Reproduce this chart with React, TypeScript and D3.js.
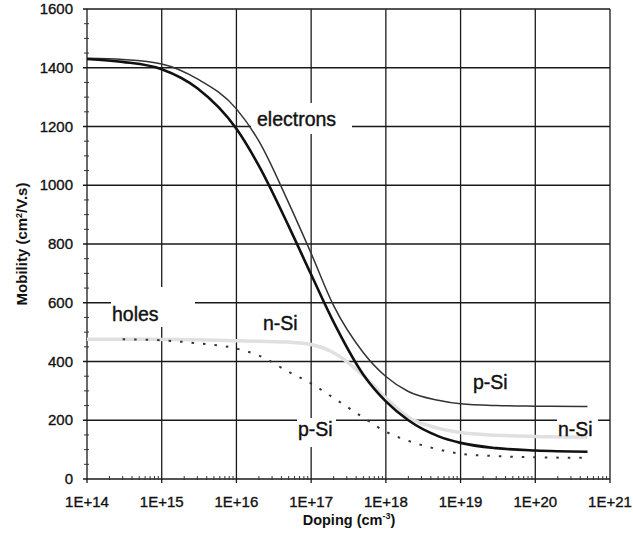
import React, { useRef, useEffect } from "react";
import * as d3 from "d3";

const doping = [1e14, 3e14, 1e15, 3e15, 1e16, 2e16, 5e16, 1e17, 2e17, 5e17, 1e18, 2e18, 5e18, 1e19, 3e19, 1e20, 5e20];
const electronsNSi = [1430, 1420, 1395, 1330, 1192, 1066, 861, 696, 534, 355, 264, 200, 146, 123, 105, 97, 93];
const electronsPSi = [1432, 1428, 1413, 1362, 1260, 1150, 940, 768, 590, 430, 349, 298, 268, 256, 250, 248, 247];
const holesNSi = [476, 476, 475, 474, 471, 469, 466, 458, 430, 352, 276, 210, 173, 158, 149, 145, 143];
const dopingHolesPSi = [3e14, 1e15, 3e15, 1e16, 2e16, 5e16, 1e17, 2e17, 5e17, 1e18, 2e18, 5e18, 1e19, 3e19, 1e20, 5e20];
const holesPSi = [476, 472, 462, 444, 420, 365, 325, 276, 209, 161, 130, 101, 86, 78, 74, 72];

const xTicks = [1e14, 1e15, 1e16, 1e17, 1e18, 1e19, 1e20, 1e21];
const xTickLabels = ["1E+14", "1E+15", "1E+16", "1E+17", "1E+18", "1E+19", "1E+20", "1E+21"];
const yTicks = [0, 200, 400, 600, 800, 1000, 1200, 1400, 1600];

const FONT = "'Liberation Sans', Arial, sans-serif";

function MobilityChart() {
    const ref = useRef<SVGSVGElement>(null);

    useEffect(() => {
        draw();
    }, []);

    const draw = () => {
        const svg = d3.select(ref.current);
        svg.selectAll("*").remove();

        const left = 87, right = 610, top = 9, bottom = 479;
        const x = d3.scaleLog().domain([1e14, 1e21]).range([left, right]);
        const y = d3.scaleLinear().domain([0, 1600]).range([bottom, top]);

        svg.append("rect").attr("width", 633).attr("height", 537).attr("fill", "white");

        // grid
        const grid = svg.append("g").attr("stroke", "#1a1a1a").attr("stroke-width", 1.3);
        yTicks.forEach((t) => {
            grid.append("line")
                .attr("x1", left - 4).attr("x2", right)
                .attr("y1", y(t)).attr("y2", y(t));
        });
        xTicks.forEach((t) => {
            grid.append("line")
                .attr("x1", x(t)).attr("x2", x(t))
                .attr("y1", top).attr("y2", bottom + 4);
        });

        // minor ticks
        const minor = svg.append("g").attr("stroke", "#333").attr("stroke-width", 1);
        d3.range(0, 1600, 50).filter((v) => v % 200 !== 0).forEach((v) => {
            minor.append("line")
                .attr("x1", left - 3).attr("x2", left + 2)
                .attr("y1", y(v)).attr("y2", y(v));
        });
        xTicks.slice(0, -1).forEach((d) => {
            d3.range(2, 10).forEach((m) => {
                minor.append("line")
                    .attr("x1", x(d * m)).attr("x2", x(d * m))
                    .attr("y1", bottom - 3).attr("y2", bottom + 1);
            });
        });

        // white boxes behind labels (they cut the grid lines)
        const boxes = [
            [251, 103, 101, 31],
            [111, 287, 84, 40],
            [297, 418, 39, 29],
            [557, 413, 41, 32],
        ];
        boxes.forEach(([bx, by, bw, bh]) => {
            svg.append("rect").attr("x", bx).attr("y", by)
                .attr("width", bw).attr("height", bh).attr("fill", "white");
        });

        // tick labels
        svg.append("g").selectAll("text").data(yTicks).enter().append("text")
            .attr("x", 73).attr("y", (d) => y(d) + 5)
            .attr("text-anchor", "end")
            .attr("font-family", FONT).attr("font-size", 15).attr("fill", "#111")
            .attr("stroke", "#111").attr("stroke-width", 0.35)
            .text((d) => d);
        svg.append("g").selectAll("text").data(xTicks).enter().append("text")
            .attr("x", (d) => x(d)).attr("y", 507)
            .attr("text-anchor", "middle")
            .attr("font-family", FONT).attr("font-size", 15).attr("fill", "#111")
            .attr("stroke", "#111").attr("stroke-width", 0.35)
            .text((d, i) => xTickLabels[i]);

        // axis titles
        const xt = svg.append("text")
            .attr("x", 349).attr("y", 525)
            .attr("text-anchor", "middle")
            .attr("font-family", FONT).attr("font-size", 14.5).attr("font-weight", "bold").attr("fill", "#111");
        xt.append("tspan").text("Doping  (cm");
        xt.append("tspan").attr("dy", -6).attr("font-size", 9).text("-3");
        xt.append("tspan").attr("dy", 6).text(")");

        const yt = svg.append("text")
            .attr("transform", "translate(27,244) rotate(-90)")
            .attr("text-anchor", "middle")
            .attr("font-family", FONT).attr("font-size", 15).attr("font-weight", "bold").attr("fill", "#111");
        yt.append("tspan").text("Mobility (cm");
        yt.append("tspan").attr("dy", -5).attr("font-size", 9).text("2");
        yt.append("tspan").attr("dy", 5).text("/V.s)");

        // curves
        const line = d3.line<[number, number]>()
            .x((d) => x(d[0]))
            .y((d) => y(d[1]))
            .curve(d3.curveMonotoneX);

        const pairs = (xs: number[], ys: number[]) => xs.map((v, i) => [v, ys[i]] as [number, number]);

        svg.append("path").attr("d", line(pairs(doping, holesNSi)))
            .attr("fill", "none").attr("stroke", "#e0e0e0").attr("stroke-width", 3.5);
        svg.append("path").attr("d", line(pairs(dopingHolesPSi, holesPSi)))
            .attr("fill", "none").attr("stroke", "#333").attr("stroke-width", 2)
            .attr("stroke-dasharray", "2.5,9");
        svg.append("path").attr("d", line(pairs(doping, electronsPSi)))
            .attr("fill", "none").attr("stroke", "#333").attr("stroke-width", 1.5);
        svg.append("path").attr("d", line(pairs(doping, electronsNSi)))
            .attr("fill", "none").attr("stroke", "#111").attr("stroke-width", 2.6);

        // curve labels
        const labels: [string, number, number][] = [
            ["electrons", 257, 126],
            ["holes", 112, 321],
            ["n-Si", 263, 330],
            ["p-Si", 298, 436],
            ["p-Si", 473, 389],
            ["n-Si", 558, 436],
        ];
        labels.forEach(([t, lx, ly]) => {
            svg.append("text").attr("x", lx).attr("y", ly)
                .attr("font-family", FONT).attr("font-size", 19.5).attr("fill", "#111")
                .attr("stroke", "#111").attr("stroke-width", 0.4)
                .text(t);
        });
    };

    return (
        <svg ref={ref} width={633} height={537}
            style={{ position: "absolute", left: 0, top: 0 }}></svg>
    );
}

export default function App() {
    return <MobilityChart />;
}
